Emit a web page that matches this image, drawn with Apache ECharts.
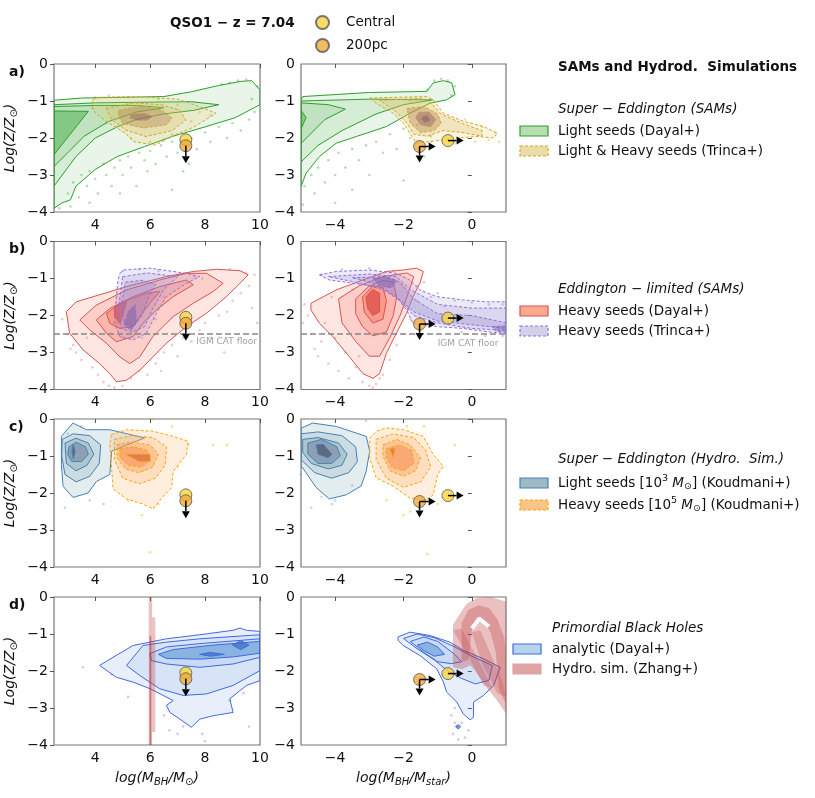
<!DOCTYPE html>
<html>
<head>
<meta charset="utf-8">
<script src="https://cdn.jsdelivr.net/npm/echarts@6/dist/echarts.min.js"></script>
<style>
  html, body { margin: 0; background: #fff; }
  #myChart { width: 815px; height: 798px; }
</style>
</head>
<body>
<div id="myChart"></div>
<script>
// tick labels
var yTicks = [-4, -3, -2, -1, 0];
var massTicks = [4, 6, 8, 10];
var ratioTicks = [-4, -2, 0];

// observed quasar points (Central / 200pc) and upper-limit arrows [x0, y0, x1, y1]
var centralLeft = [7.3, -2.05];
var pc200Left = [7.3, -2.21];
var centralRight = [-0.7, -2.07];
var pc200Right = [-1.53, -2.23];
var arrowsLeft = [[7.3, -2.21, 7.3, -2.68]];
var arrowsRight = [[-1.53, -2.23, -1.06, -2.23], [-1.53, -2.23, -1.53, -2.66], [-0.7, -2.07, -0.24, -2.07]];

var igmFloor = -2.5;
var igmLabelLeft = [7.68, -2.71];
var igmLabelRight = [-1.0, -2.75];

// ---- contour levels (outer -> inner), log M or log ratio vs log Z
var aL_green = [
  [[2.5,-0.98],[3.5,-0.92],[5,-0.9],[6.5,-0.88],[7.5,-0.75],[8.5,-0.58],[9.3,-0.47],[9.7,-0.45],[10,-0.7],[10,-1.1],[9.1,-1.45],[8,-1.7],[6.8,-1.96],[5.8,-2.23],[4.8,-2.5],[4,-2.85],[3.3,-3.3],[3.1,-3.67],[2.8,-3.75],[2.5,-3.9]],
  [[2.5,-1.1],[4,-1.05],[6,-1.03],[7.5,-1.02],[8.5,-1.1],[7.6,-1.25],[6.5,-1.35],[5.5,-1.5],[4.8,-1.7],[4,-2.0],[3.3,-2.5],[2.5,-3.3]],
  [[2.5,-1.15],[4,-1.12],[5.5,-1.12],[6.5,-1.18],[5.5,-1.3],[4.5,-1.55],[3.6,-1.95],[3,-2.4],[2.5,-2.77]],
  [[2.5,-1.27],[3.75,-1.28],[2.5,-2.45]]
];
var aL_tan = [
  [[3.9,-0.97],[4.1,-0.9],[5.5,-0.88],[7.0,-0.95],[7.8,-1.15],[8.4,-1.33],[7.6,-1.7],[6.8,-1.95],[6.2,-2.19],[5.4,-2.1],[5.1,-1.87],[4.5,-1.6],[4.0,-1.33],[3.9,-1.15]],
  [[4.4,-1.2],[5.4,-1.05],[6.4,-1.1],[7.1,-1.25],[7.3,-1.52],[6.8,-1.8],[5.85,-1.96],[5.1,-1.78],[4.6,-1.5]],
  [[4.85,-1.25],[5.7,-1.13],[6.4,-1.24],[6.8,-1.46],[6.6,-1.64],[5.75,-1.73],[5.0,-1.6],[4.85,-1.42]],
  [[5.3,-1.35],[5.8,-1.33],[6.1,-1.42],[5.9,-1.52],[5.5,-1.53],[5.25,-1.46]]
];
var aR_green = [
  [[-5,-0.97],[-4.95,-0.88],[-3.0,-0.77],[-1.32,-0.74],[-1.13,-0.51],[-0.83,-0.45],[-0.59,-0.51],[-0.49,-0.83],[-0.74,-0.97],[-1.23,-1.06],[-1.81,-1.33],[-2.5,-1.69],[-3.38,-1.96],[-3.97,-2.14],[-4.46,-2.5],[-4.85,-2.95],[-5,-3.31]],
  [[-5,-1.0],[-3,-0.95],[-1.15,-0.97],[-2,-1.1],[-2.8,-1.35],[-3.8,-1.8],[-4.5,-2.2],[-5,-2.65]],
  [[-5,-1.05],[-4.2,-1.1],[-3.7,-1.22],[-4.3,-1.5],[-5,-2.15]],
  [[-5,-1.25],[-4.85,-1.45],[-5,-1.75]]
];
var aR_tan = [
  [[-3.0,-0.92],[-1.32,-0.88],[-1.13,-0.97],[-0.83,-1.33],[-0.25,-1.55],[0.34,-1.69],[0.74,-1.87],[0.64,-2.0],[0.15,-1.96],[-0.44,-2.0],[-0.83,-2.05],[-1.62,-2.14],[-1.81,-1.87],[-2.0,-1.6],[-2.3,-1.33],[-2.8,-1.06]],
  [[-2.7,-0.98],[-1.5,-0.93],[-1.2,-1.05],[-0.9,-1.35],[-0.3,-1.6],[0.3,-1.8],[0.3,-1.95],[-0.3,-1.85],[-0.85,-1.8],[-1.3,-1.95],[-1.7,-1.9],[-1.9,-1.6],[-2.2,-1.3]],
  [[-1.9,-1.2],[-1.4,-1.15],[-1.0,-1.35],[-0.9,-1.6],[-1.1,-1.8],[-1.5,-1.85],[-1.8,-1.6]],
  [[-1.55,-1.3],[-1.25,-1.3],[-1.05,-1.5],[-1.2,-1.7],[-1.5,-1.65],[-1.65,-1.45]],
  [[-1.45,-1.4],[-1.3,-1.38],[-1.2,-1.52],[-1.35,-1.6],[-1.5,-1.5]]
];
var bL_salmon = [
  [[2.95,-1.9],[3.31,-1.63],[4.16,-1.44],[5.38,-1.17],[6.59,-0.95],[7.57,-0.81],[8.42,-0.75],[9.27,-0.79],[9.57,-0.9],[9.27,-1.13],[8.78,-1.49],[8.05,-1.94],[7.32,-2.3],[6.59,-2.75],[6.1,-3.12],[5.62,-3.48],[5.14,-3.75],[4.77,-3.79],[4.53,-3.57],[4.16,-3.3],[3.56,-2.93],[3.07,-2.48]],
  [[3.44,-2.12],[4.04,-1.72],[5.14,-1.31],[6.35,-1.04],[7.32,-0.86],[8.05,-0.86],[8.66,-1.13],[8.3,-1.35],[7.57,-1.67],[6.84,-2.03],[6.1,-2.57],[5.62,-3.12],[5.26,-3.3],[4.9,-3.12],[4.41,-2.75],[3.8,-2.39]],
  [[4.04,-2.12],[4.53,-1.81],[5.38,-1.49],[6.35,-1.22],[7.32,-1.04],[7.57,-1.17],[6.84,-1.49],[6.23,-1.85],[5.74,-2.21],[5.38,-2.57],[4.77,-2.71],[4.41,-2.48]],
  [[4.41,-1.94],[5.02,-1.63],[5.86,-1.4],[6.35,-1.35],[5.99,-1.67],[5.62,-2.03],[5.38,-2.3],[4.9,-2.35],[4.53,-2.21]],
  [[4.71,-1.76],[5.14,-1.63],[5.02,-1.94],[4.9,-2.21],[4.71,-2.03]]
];
var bL_purple = [
  [[4.9,-0.86],[5.02,-0.77],[5.99,-0.72],[7.32,-0.86],[7.81,-0.95],[7.32,-1.13],[6.59,-1.49],[6.23,-1.94],[5.86,-2.48],[5.38,-2.66],[4.9,-2.57],[4.71,-2.21],[4.77,-1.49],[4.83,-1.04]],
  [[5.0,-0.95],[5.9,-0.85],[7.0,-0.95],[6.5,-1.3],[6.1,-1.8],[5.8,-2.3],[5.35,-2.45],[4.95,-2.35],[4.85,-1.8]],
  [[5.1,-1.1],[5.7,-1.05],[6.2,-1.15],[5.95,-1.5],[5.7,-2.0],[5.4,-2.3],[5.05,-2.2],[4.95,-1.7]],
  [[5.2,-1.9],[5.45,-1.7],[5.5,-2.2],[5.3,-2.4],[5.05,-2.25]]
];
var bR_salmon = [
  [[-4.71,-1.67],[-3.97,-1.31],[-3.19,-1.04],[-2.5,-0.81],[-2.0,-0.77],[-1.62,-0.72],[-1.42,-0.81],[-1.52,-1.13],[-1.72,-1.49],[-1.91,-1.94],[-2.21,-2.48],[-2.5,-3.02],[-2.7,-3.57],[-2.89,-3.7],[-3.19,-3.57],[-3.58,-3.12],[-4.07,-2.57],[-4.46,-2.21],[-4.71,-1.85]],
  [[-3.9,-1.55],[-3.3,-1.2],[-2.6,-0.95],[-1.9,-0.85],[-1.7,-0.95],[-1.9,-1.5],[-2.1,-2.0],[-2.4,-2.6],[-2.7,-3.1],[-3.0,-3.1],[-3.4,-2.7],[-3.8,-2.2]],
  [[-3.4,-1.55],[-3.0,-1.2],[-2.6,-1.05],[-2.3,-1.1],[-2.2,-1.5],[-2.3,-2.0],[-2.5,-2.45],[-2.9,-2.55],[-3.2,-2.3],[-3.4,-1.95]],
  [[-3.2,-1.5],[-2.9,-1.2],[-2.6,-1.25],[-2.5,-1.6],[-2.6,-2.1],[-2.9,-2.2],[-3.15,-1.9]],
  [[-3.1,-1.5],[-2.9,-1.3],[-2.7,-1.4],[-2.7,-1.9],[-2.9,-2.0],[-3.05,-1.8]]
];
var bR_purple = [
  [[-4.46,-0.9],[-3.97,-0.81],[-2.99,-0.77],[-2.21,-0.86],[-1.82,-1.04],[-1.52,-1.31],[-1.03,-1.49],[-0.25,-1.58],[0.44,-1.63],[1,-1.63],[1,-2.48],[0.44,-2.44],[-0.25,-2.35],[-1.03,-2.3],[-1.72,-2.21],[-1.91,-1.85],[-2.21,-1.49],[-2.7,-1.22],[-3.48,-1.13],[-4.17,-1.04]],
  [[-4.2,-0.95],[-3.0,-0.88],[-2.2,-0.95],[-1.8,-1.3],[-1.0,-1.7],[0,-1.8],[1,-1.8],[1,-2.4],[0,-2.35],[-1,-2.2],[-1.7,-2.0],[-2.1,-1.6],[-2.6,-1.3],[-3.5,-1.08]],
  [[-3.5,-0.98],[-2.6,-0.95],[-2.1,-1.1],[-1.7,-1.55],[-1.0,-1.95],[0,-2.0],[1,-2.2],[1,-2.35],[0,-2.25],[-1,-2.15],[-1.7,-1.9],[-2.2,-1.5],[-2.8,-1.15]],
  [[-2.9,-1.0],[-2.5,-0.95],[-2.2,-1.05],[-2.35,-1.25],[-2.7,-1.2]],
  [[0.6,-2.3],[1,-2.28],[1,-2.45],[0.7,-2.42]]
];
var cL_blue = [
  [[2.77,-0.47],[3.19,-0.11],[3.68,-0.29],[4.53,-0.29],[5.8,-0.51],[4.6,-0.87],[4.53,-1.5],[4.04,-1.69],[3.74,-2.0],[3.19,-2.12],[2.83,-1.82],[2.77,-1.23]],
  [[2.8,-0.55],[3.2,-0.4],[3.8,-0.45],[4.2,-0.7],[4.15,-1.2],[3.8,-1.55],[3.3,-1.7],[2.9,-1.5],[2.78,-1.0]],
  [[2.9,-0.65],[3.3,-0.52],[3.75,-0.65],[3.95,-0.95],[3.7,-1.25],[3.3,-1.4],[2.95,-1.2]],
  [[3.05,-0.75],[3.3,-0.63],[3.65,-0.75],[3.75,-0.95],[3.5,-1.15],[3.15,-1.15],[3.0,-0.95]],
  [[3.15,-0.88],[3.2,-0.68],[3.27,-0.88],[3.21,-1.08]]
];
var cL_orange = [
  [[4.59,-0.42],[5.14,-0.29],[6.11,-0.33],[6.84,-0.47],[7.38,-0.6],[7.32,-0.96],[6.84,-1.41],[6.78,-1.86],[6.48,-2.09],[6.11,-2.43],[5.74,-2.3],[5.14,-2.16],[4.65,-1.89],[4.59,-1.23],[4.53,-0.69]],
  [[4.7,-0.55],[5.3,-0.45],[6.1,-0.5],[6.6,-0.75],[6.55,-1.25],[6.2,-1.6],[5.6,-1.75],[5.0,-1.6],[4.7,-1.1]],
  [[4.8,-0.7],[5.3,-0.62],[6.0,-0.7],[6.3,-0.95],[6.1,-1.3],[5.6,-1.45],[5.1,-1.35],[4.8,-1.05]],
  [[4.9,-0.8],[5.4,-0.75],[5.9,-0.85],[6.0,-1.1],[5.7,-1.3],[5.2,-1.25],[4.9,-1.05]],
  [[5.1,-0.95],[6.0,-0.95],[6.0,-1.15],[5.6,-1.15]]
];
var cR_blue = [
  [[-5,-0.25],[-4.66,-0.11],[-3.97,-0.2],[-3.09,-0.47],[-2.99,-0.87],[-3.09,-1.41],[-3.24,-1.81],[-3.68,-2.05],[-4.17,-2.16],[-4.56,-1.85],[-4.95,-1.32],[-5,-1.3]],
  [[-5,-0.4],[-4.5,-0.35],[-3.8,-0.45],[-3.4,-0.75],[-3.35,-1.15],[-3.6,-1.45],[-4.1,-1.6],[-4.6,-1.45],[-5,-1.1]],
  [[-4.95,-0.55],[-4.5,-0.5],[-3.9,-0.65],[-3.65,-0.95],[-3.8,-1.25],[-4.2,-1.35],[-4.7,-1.2],[-4.95,-0.9]],
  [[-4.8,-0.65],[-4.4,-0.55],[-3.95,-0.75],[-3.85,-1.0],[-4.1,-1.2],[-4.5,-1.2],[-4.8,-0.95]],
  [[-4.55,-0.7],[-4.35,-0.68],[-4.1,-0.95],[-4.2,-1.05],[-4.5,-0.95]]
];
var cR_orange = [
  [[-2.99,-0.51],[-2.79,-0.33],[-2.5,-0.24],[-2.0,-0.29],[-1.42,-0.47],[-1.13,-0.96],[-0.83,-1.28],[-1.0,-1.5],[-1.13,-2.05],[-1.32,-2.18],[-1.81,-2.14],[-2.3,-1.82],[-2.8,-1.59],[-2.99,-1.05]],
  [[-2.8,-0.55],[-2.3,-0.4],[-1.7,-0.5],[-1.35,-0.85],[-1.2,-1.3],[-1.5,-1.7],[-2.0,-1.85],[-2.5,-1.6],[-2.8,-1.1]],
  [[-2.6,-0.7],[-2.2,-0.55],[-1.8,-0.7],[-1.5,-1.05],[-1.65,-1.4],[-2.0,-1.55],[-2.4,-1.4],[-2.6,-1.0]],
  [[-2.5,-0.8],[-2.1,-0.7],[-1.75,-0.85],[-1.7,-1.2],[-2.0,-1.4],[-2.35,-1.3],[-2.5,-1.05]],
  [[-2.4,-0.8],[-2.25,-0.8],[-2.3,-1.05]]
];
var dL_blue = [
  [[4.16,-1.85],[4.65,-1.63],[5.38,-1.31],[6.59,-1.13],[7.81,-1.02],[9.02,-0.9],[9.27,-0.84],[9.51,-0.9],[10,-0.93],[10,-2.26],[9.51,-2.39],[8.9,-2.75],[9.02,-3.12],[8.29,-3.21],[7.81,-3.3],[7.5,-3.52],[7.08,-3.3],[6.72,-3.12],[6.59,-2.93],[6.84,-2.8],[6.0,-2.48],[5.38,-2.3],[4.77,-2.17]],
  [[5.14,-1.85],[5.74,-1.31],[6.59,-1.22],[7.81,-1.13],[10,-1.02],[10,-1.99],[9.02,-2.39],[8.05,-2.62],[7.2,-2.66],[6.35,-2.48],[5.62,-2.12]],
  [[5.99,-1.53],[6.59,-1.35],[7.81,-1.26],[10,-1.13],[10,-1.63],[9.02,-1.81],[7.81,-1.9],[6.59,-1.81],[6.05,-1.72]],
  [[6.3,-1.55],[6.84,-1.42],[8.29,-1.3],[10,-1.2],[10,-1.52],[9.02,-1.62],[7.81,-1.68],[6.59,-1.66]],
  [[7.8,-1.55],[8.2,-1.5],[8.7,-1.55],[8.2,-1.6]],
  [[9.0,-1.3],[9.3,-1.18],[9.6,-1.3],[9.3,-1.42]]
];
var dL_zhang = [
  [[5.95,0],[6.07,0],[6.07,-4],[5.95,-4]],
  [[6.07,-0.55],[6.19,-0.55],[6.19,-3.65],[6.07,-3.65]],
  [[5.98,-1.05],[6.04,-1.05],[6.04,-4],[5.98,-4]]
];
var dR_blue = [
  [[-2.16,-1.08],[-1.81,-0.95],[-1.23,-1.04],[-0.64,-1.22],[-0.25,-1.44],[0.34,-1.67],[0.83,-1.9],[0.64,-2.39],[0.34,-2.66],[0.05,-2.84],[0.05,-3.25],[-0.05,-3.32],[-0.25,-3.16],[-0.44,-2.84],[-0.74,-2.57],[-0.83,-2.3],[-1.03,-1.94],[-1.52,-1.58],[-2.01,-1.31],[-2.16,-1.17]],
  [[-2.0,-1.12],[-1.6,-1.0],[-1.1,-1.1],[-0.5,-1.35],[0,-1.6],[0.6,-1.85],[0.5,-2.25],[0.1,-2.35],[-0.3,-2.2],[-0.7,-2.0],[-1.1,-1.7],[-1.6,-1.4]],
  [[-1.8,-1.2],[-1.4,-1.08],[-1.0,-1.2],[-0.5,-1.55],[-0.3,-1.75],[-0.6,-1.8],[-1.0,-1.75],[-1.4,-1.5]],
  [[-1.6,-1.3],[-1.3,-1.22],[-1.0,-1.35],[-0.8,-1.55],[-1.1,-1.6],[-1.4,-1.45]],
  [[-0.4,-3.45],[-0.33,-3.5],[-0.4,-3.57],[-0.47,-3.5]]
];
var dR_zhang = [
  [[-0.55,-0.75],[-0.35,-0.45],[-0.15,-0.18],[0.15,-0.03],[0.55,0],[1,-0.12],[1,-3.15],[0.7,-2.75],[0.4,-2.4],[0.1,-2.0],[-0.05,-1.85],[-0.3,-1.95],[-0.55,-1.9]],
  [[-0.3,-0.7],[-0.1,-0.35],[0.2,-0.22],[0.5,-0.3],[0.75,-0.6],[0.95,-1.1],[1,-1.6],[1,-2.9],[0.8,-2.5],[0.7,-1.5],[0.55,-0.95],[0.4,-0.75],[0.2,-0.65],[0.0,-0.9],[-0.1,-1.7],[-0.3,-1.75]],
  [[-0.55,-0.9],[-0.3,-0.85],[0.3,-1.9],[0.6,-2.45],[0.35,-2.4],[-0.1,-1.6]],
  [[0.0,-0.95],[0.25,-0.9],[0.9,-2.3],[1,-2.7],[0.75,-2.6],[0.3,-1.8]]
];
var dR_gap = [[0.0,-0.85],[0.22,-0.58],[0.5,-0.8]];

// ---- individual sources outside the contours
var aL_greenDots = [[3.0,-3.5],[3.2,-3.2],[3.4,-3.6],[3.5,-3.0],[3.7,-3.3],[3.8,-2.9],[4.0,-3.1],[4.1,-3.5],[4.3,-2.7],[4.4,-3.0],[4.6,-3.3],[4.7,-2.8],[4.9,-2.6],[5.0,-3.0],[5.2,-2.5],[5.3,-2.8],[5.5,-3.3],[5.6,-2.4],[5.8,-2.6],[6.0,-2.35],[6.2,-2.7],[6.4,-2.2],[6.6,-2.5],[6.8,-2.1],[7.0,-2.4],[7.2,-2.9],[7.5,-2.0],[7.7,-2.3],[8.0,-1.85],[8.2,-2.1],[8.5,-1.7],[8.8,-2.0],[9.0,-1.6],[9.3,-1.8],[9.6,-1.5],[9.8,-1.3],[8.6,-0.55],[8.9,-0.5],[9.2,-0.45],[9.5,-0.42],[9.9,-0.6],[9.7,-0.95],[3.1,-3.85],[2.7,-3.9],[6.8,-3.4],[7.4,-2.7],[5.9,-2.9],[4.9,-3.5],[3.8,-3.75]];
var aL_tanDots = [[4.0,-0.9],[4.5,-0.85],[5.2,-0.9],[6.3,-0.95],[7.0,-1.1],[7.8,-1.3],[8.2,-1.4],[6.8,-1.9],[6.0,-2.1],[5.3,-2.0],[4.4,-1.6],[3.9,-1.2],[7.5,-1.55],[6.5,-2.05]];
var aR_greenDots = [[-4.9,-3.3],[-4.7,-3.0],[-4.6,-3.5],[-4.5,-2.8],[-4.3,-3.2],[-4.2,-2.6],[-4.0,-3.0],[-3.9,-2.4],[-3.7,-2.8],[-3.5,-2.3],[-3.3,-2.6],[-3.1,-2.2],[-3.0,-3.0],[-2.8,-2.1],[-2.6,-2.4],[-2.4,-1.9],[-2.2,-2.3],[-2.0,-1.75],[-1.8,-2.0],[-1.6,-1.65],[-1.4,-2.5],[-1.2,-1.95],[-2.0,-3.15],[-3.5,-3.4],[-4.0,-3.75],[-4.95,-3.8],[-1.1,-0.45],[-0.9,-0.4],[-0.7,-0.45],[-0.5,-0.6],[-0.6,-0.85],[-1.3,-0.7]];
var aR_tanDots = [[-0.2,-1.5],[0.3,-1.7],[0.7,-1.85],[0.8,-2.1],[0.5,-2.05],[0.1,-2.1],[-0.5,-2.15],[-1.2,-2.1],[-1.8,-1.0],[-2.5,-0.95]];
var bL_salmonDots = [[3.0,-2.5],[3.2,-2.8],[3.3,-3.0],[3.5,-3.2],[3.7,-2.6],[3.9,-3.4],[4.1,-3.6],[4.3,-3.8],[4.5,-3.9],[4.7,-3.95],[5.0,-3.9],[5.3,-3.7],[5.6,-3.5],[5.9,-3.6],[6.2,-3.3],[6.5,-3.0],[6.8,-2.8],[7.0,-3.1],[7.2,-2.6],[7.5,-2.7],[7.8,-2.4],[8.0,-2.2],[8.2,-2.6],[8.5,-2.0],[8.8,-1.9],[9.0,-1.6],[9.3,-1.4],[9.6,-1.2],[9.8,-0.9],[9.7,-1.8],[9.9,-2.2],[8.7,-3.0],[6.4,-3.5],[2.8,-2.1],[3.1,-2.9],[9.5,-0.85],[8.9,-0.75]];
var bL_purpleDots = [[5.0,-0.8],[5.6,-0.75],[6.3,-0.8],[7.0,-0.9],[7.6,-0.95],[7.9,-1.0],[6.5,-1.5],[6.2,-2.1],[5.7,-2.6],[5.0,-2.6],[4.8,-2.2],[7.4,-1.1]];
var bR_salmonDots = [[-4.8,-2.0],[-4.7,-2.5],[-4.6,-2.9],[-4.5,-3.1],[-4.3,-2.2],[-4.2,-3.3],[-4.0,-2.6],[-3.9,-3.5],[-3.7,-3.0],[-3.6,-3.7],[-3.4,-3.4],[-3.2,-3.8],[-3.0,-3.9],[-2.8,-3.85],[-2.6,-3.6],[-2.4,-3.2],[-2.2,-2.8],[-2.0,-2.5],[-1.8,-2.1],[-1.6,-1.6],[-1.4,-1.1],[-4.9,-1.7],[-4.95,-2.2],[-4.1,-1.5],[-3.5,-1.3],[-2.9,-3.95],[-2.7,-3.7],[-3.3,-3.1],[-4.4,-2.7]];
var bR_purpleDots = [[-4.4,-0.9],[-3.8,-0.75],[-3.0,-0.72],[-2.3,-0.8],[-1.6,-1.2],[-1.2,-1.5],[-0.5,-1.6],[0,-1.65],[0.5,-1.7],[0.9,-1.7],[-0.3,-2.45],[0.4,-2.55],[0.9,-2.55],[-1.5,-2.4],[-1.0,-1.4],[-0.8,-1.75]];
var cL_blueDots = [[3.5,-0.2],[2.9,-2.4],[3.8,-2.2],[4.3,-2.3],[3.0,-0.4]];
var cL_orangeDots = [[6.1,0],[6.8,-0.2],[7.4,-0.7],[8.3,-0.7],[8.8,-0.7],[6.0,-3.6],[5.7,-2.6],[6.3,-2.3],[7.0,-1.3],[5.2,-2.2]];
var cR_blueDots = [[-3.1,-0.05],[-3.5,-1.8],[-4.4,-2.1],[-4.0,-2.2],[-4.7,-2.4],[-4.1,-2.3],[-5.0,-1.5]];
var cR_orangeDots = [[-1.4,-0.2],[-1.9,-0.2],[-0.5,-0.7],[-2.5,-2.2],[-1.8,-2.5],[-2.0,-2.6],[-1.3,-3.65],[-1.0,-2.3]];
var dL_blueDots = [[3.55,-1.9],[4.6,-2.1],[5.2,-2.7],[6.5,-3.2],[6.7,-3.6],[7.0,-3.7],[7.2,-3.5],[7.9,-3.7],[8.0,-3.9],[9.6,-3.5],[8.9,-2.8],[9.4,-2.6]];
var dR_blueDots = [[-0.5,-3.0],[-0.6,-3.2],[-0.5,-3.4],[-0.55,-3.7],[-0.2,-3.8],[-0.1,-3.6],[-0.3,-3.4],[-0.4,-3.85],[-0.45,-3.5]];

// ---- styles
var FONT = 'DejaVu Sans';
var st = {
  green:  { line: '#2ca02c', dash: false, fills: ['rgba(44,160,44,0.10)', 'rgba(44,160,44,0.10)', 'rgba(44,160,44,0.12)', 'rgba(44,160,44,0.40)'], dot: 'rgba(44,160,44,0.45)' },
  tan:    { line: '#d4a52a', dash: true, fills: ['rgba(225,200,80,0.18)', 'rgba(220,185,90,0.25)', 'rgba(175,120,80,0.35)', 'rgba(140,90,110,0.45)', 'rgba(130,85,110,0.5)'], dot: 'rgba(215,175,70,0.55)' },
  salmon: { line: '#d9534f', dash: false, fills: ['rgba(250,128,114,0.20)', 'rgba(250,128,114,0.22)', 'rgba(250,120,100,0.28)', 'rgba(245,100,80,0.35)', 'rgba(210,50,50,0.55)'], dot: 'rgba(215,100,100,0.45)' },
  purple: { line: '#9370db', dash: true, fills: ['rgba(150,140,210,0.18)', 'rgba(150,140,210,0.20)', 'rgba(140,125,200,0.25)', 'rgba(110,90,170,0.45)', 'rgba(110,90,170,0.45)'], dot: 'rgba(140,120,220,0.5)' },
  steel:  { line: '#4682b4', dash: false, fills: ['rgba(70,130,150,0.15)', 'rgba(70,130,150,0.15)', 'rgba(70,120,140,0.22)', 'rgba(80,90,130,0.35)', 'rgba(50,50,80,0.5)'], dot: 'rgba(70,130,180,0.4)' },
  orange: { line: '#ffa500', dash: true, fills: ['rgba(255,170,90,0.20)', 'rgba(255,165,80,0.22)', 'rgba(250,140,60,0.30)', 'rgba(240,120,50,0.35)', 'rgba(200,90,40,0.5)'], dot: 'rgba(255,165,0,0.5)' },
  blue:   { line: '#4169e1', dash: false, fills: ['rgba(100,150,230,0.15)', 'rgba(100,150,230,0.12)', 'rgba(100,150,230,0.12)', 'rgba(60,130,200,0.45)', 'rgba(40,90,180,0.55)'], dot: 'rgba(65,105,225,0.4)' },
  zhang:  { line: null, dash: false, fills: ['rgba(190,60,60,0.32)', 'rgba(190,60,60,0.3)', 'rgba(180,50,50,0.55)', 'rgba(190,60,60,0.3)'] }
};
st.zhangR = { line: null, dash: false, fills: ['rgba(190,60,60,0.32)', 'rgba(190,60,60,0.3)', 'rgba(190,60,60,0.25)', 'rgba(190,60,60,0.25)'] };

// ---- layout
var tops = [64, 241.5, 419, 597];
var H = 148;
var grids = [], xAxes = [], yAxes = [];
function minus(v) { return String(v).replace('-', '\u2212'); }

tops.forEach(function (t, r) {
  [0, 1].forEach(function (c) {
    grids.push({ left: c ? 301 : 54, top: t, width: c ? 205 : 206, height: H, show: true, borderColor: '#777', borderWidth: 1.2, backgroundColor: 'transparent' });
    var ticks = c ? ratioTicks : massTicks;
    var x = {
      type: 'value', gridIndex: r * 2 + c, min: c ? -5 : 2.5, max: c ? 1 : 10,
      splitLine: { show: false }, axisLine: { show: false },
      axisTick: { show: true, customValues: ticks, length: 4, lineStyle: { color: '#555' } },
      axisLabel: { customValues: ticks, formatter: minus, fontSize: 14, color: '#111', fontFamily: FONT, margin: 6 }
    };
    if (r === 3) {
      x.name = c ? '{i|log(M}{s|BH}{i|/M}{s|star}{i|)}' : '{i|log(M}{s|BH}{i|/M}{o|\u2299}{i|)}';
      x.nameLocation = 'middle';
      x.nameGap = 24;
      x.nameTextStyle = { rich: {
        i: { fontSize: 14, fontStyle: 'italic', fontFamily: FONT, color: '#111' },
        s: { fontSize: 10, fontStyle: 'italic', fontFamily: FONT, color: '#111', padding: [8, 0, 0, 0] },
        o: { fontSize: 10, fontFamily: FONT, color: '#111', padding: [8, 0, 0, 0] }
      } };
    }
    xAxes.push(x);
    var y = {
      type: 'value', gridIndex: r * 2 + c, min: -4, max: 0, interval: 1,
      splitLine: { show: false }, axisLine: { show: false },
      axisTick: { show: true, length: 4, lineStyle: { color: '#555' } },
      axisLabel: { formatter: minus, fontSize: 14, color: '#111', fontFamily: FONT, margin: 6 }
    };
    if (c === 0) {
      y.name = '{i|Log(Z/Z}{o|\u2299}{i|)}';
      y.nameLocation = 'middle';
      y.nameGap = 35;
      y.nameRotate = 90;
      y.nameTextStyle = { rich: {
        i: { fontSize: 14, fontStyle: 'italic', fontFamily: FONT, color: '#111' },
        o: { fontSize: 10, fontFamily: FONT, color: '#111', padding: [8, 0, 0, 0] }
      } };
    }
    yAxes.push(y);
  });
});

// ---- series builders
function polySeries(idx, polys, s, z) {
  return {
    type: 'custom', xAxisIndex: idx, yAxisIndex: idx, clip: true, silent: true, z: z || 2,
    data: polys.map(function (p) { return p[0]; }),
    renderItem: function (params, api) {
      var p = polys[params.dataIndex];
      var fill = s.fills[Math.min(params.dataIndex, s.fills.length - 1)];
      return {
        type: 'polygon',
        shape: { points: p.map(function (q) { return api.coord(q); }) },
        style: { fill: fill, stroke: s.line || 'none', lineWidth: s.line ? 1 : 0, lineDash: s.dash ? [3, 2] : null }
      };
    }
  };
}
function dotSeries(idx, pts, s) {
  return { type: 'scatter', xAxisIndex: idx, yAxisIndex: idx, data: pts, symbolSize: 2.6, silent: true, z: 1,
    itemStyle: { color: s.dot }, clip: true };
}
function arrowSeries(idx, arrows) {
  return {
    type: 'custom', xAxisIndex: idx, yAxisIndex: idx, silent: true, z: 10, data: arrows,
    renderItem: function (params, api) {
      var a = api.coord([api.value(0), api.value(1)]);
      var b = api.coord([api.value(2), api.value(3)]);
      var dx = b[0] - a[0], dy = b[1] - a[1];
      var L = Math.sqrt(dx * dx + dy * dy), ux = dx / L, uy = dy / L, h = 7, w = 4;
      var base = [b[0] - ux * h, b[1] - uy * h];
      return { type: 'group', children: [
        { type: 'line', shape: { x1: a[0], y1: a[1], x2: base[0], y2: base[1] }, style: { stroke: '#000', lineWidth: 1.5 } },
        { type: 'polygon', shape: { points: [b, [base[0] - uy * w, base[1] + ux * w], [base[0] + uy * w, base[1] - ux * w]] }, style: { fill: '#000' } }
      ] };
    }
  };
}
function markerSeries(idx, central, pc) {
  return [
    { name: 'Central', type: 'scatter', xAxisIndex: idx, yAxisIndex: idx, data: [central], symbolSize: 12, z: 8, silent: true,
      itemStyle: { color: '#f7d53c', borderColor: '#555', borderWidth: 1 } },
    { name: '200pc', type: 'scatter', xAxisIndex: idx, yAxisIndex: idx, data: [pc], symbolSize: 12, z: 9, silent: true,
      itemStyle: { color: '#f2aa3c', borderColor: '#555', borderWidth: 1 } }
  ];
}
function floorSeries(idx, x0, x1, lab) {
  return [
    { type: 'line', xAxisIndex: idx, yAxisIndex: idx, data: [[x0, igmFloor], [x1, igmFloor]], symbol: 'none', silent: true, z: 5,
      lineStyle: { color: '#888', width: 1.5, type: [6, 3] } },
    { type: 'scatter', xAxisIndex: idx, yAxisIndex: idx, data: [lab], symbolSize: 0, silent: true, z: 5,
      label: { show: true, position: 'right', distance: 0, formatter: 'IGM CAT floor', fontSize: 9, color: '#888', fontFamily: FONT } }
  ];
}

var series = [];
// a)
series.push(dotSeries(0, aL_greenDots, st.green), dotSeries(0, aL_tanDots, st.tan));
series.push(polySeries(0, aL_green, st.green), polySeries(0, aL_tan, st.tan, 3));
series.push(dotSeries(1, aR_greenDots, st.green), dotSeries(1, aR_tanDots, st.tan));
series.push(polySeries(1, aR_green, st.green), polySeries(1, aR_tan, st.tan, 3));
// b)
series.push(dotSeries(2, bL_salmonDots, st.salmon), dotSeries(2, bL_purpleDots, st.purple));
series.push(polySeries(2, bL_salmon, st.salmon), polySeries(2, bL_purple, st.purple, 3));
series.push(dotSeries(3, bR_salmonDots, st.salmon), dotSeries(3, bR_purpleDots, st.purple));
series.push(polySeries(3, bR_salmon, st.salmon), polySeries(3, bR_purple, st.purple, 3));
series = series.concat(floorSeries(2, 2.5, 10, igmLabelLeft), floorSeries(3, -5, 1, igmLabelRight));
// c)
series.push(dotSeries(4, cL_blueDots, st.steel), dotSeries(4, cL_orangeDots, st.orange));
series.push(polySeries(4, cL_blue, st.steel), polySeries(4, cL_orange, st.orange, 3));
series.push(dotSeries(5, cR_blueDots, st.steel), dotSeries(5, cR_orangeDots, st.orange));
series.push(polySeries(5, cR_blue, st.steel), polySeries(5, cR_orange, st.orange, 3));
// d)
series.push(dotSeries(6, dL_blueDots, st.blue), polySeries(6, dL_blue, st.blue), polySeries(6, dL_zhang, st.zhang, 3));
series.push(dotSeries(7, dR_blueDots, st.blue), polySeries(7, dR_blue, st.blue), polySeries(7, dR_zhang, st.zhangR, 3));
series.push({ type: 'line', xAxisIndex: 7, yAxisIndex: 7, data: dR_gap, symbol: 'none', silent: true, z: 4,
  lineStyle: { color: '#fff', width: 4 } });

for (var i = 0; i < 8; i++) {
  var right = i % 2 === 1;
  series = series.concat(markerSeries(i, right ? centralRight : centralLeft, right ? pc200Right : pc200Left));
  series.push(arrowSeries(i, right ? arrowsRight : arrowsLeft));
}

// ---- right-hand legend (text + patches)
var graphic = [];
function txt(x, y, text, extra) {
  var s = { text: text, fontSize: 13.5, fontFamily: FONT, fill: '#111', verticalAlign: 'middle' };
  for (var k in extra) s[k] = extra[k];
  graphic.push({ type: 'text', x: x, y: y, style: s });
}
function patch(x, y, fill, stroke, dashed) {
  graphic.push({ type: 'rect', shape: { x: x, y: y - 5, width: 28, height: 10 },
    style: { fill: fill, stroke: stroke || fill, lineWidth: 1.2, lineDash: dashed ? [3, 2] : null } });
}
var supRich = {
  n: { fontSize: 13.5, fontFamily: FONT, fill: '#111' },
  i: { fontSize: 13.5, fontFamily: FONT, fontStyle: 'italic', fill: '#111' },
  sup: { fontSize: 9.5, fontFamily: FONT, fill: '#111', padding: [0, 0, 8, 0] },
  sub: { fontSize: 9.5, fontFamily: FONT, fill: '#111', padding: [8, 0, 0, 0] }
};

['a)', 'b)', 'c)', 'd)'].forEach(function (l, r) {
  txt(9, tops[r] + 8, l, { fontWeight: 'bold', fontSize: 14 });
});
txt(558, 67, 'SAMs and Hydrod.  Simulations', { fontWeight: 'bold' });

txt(558, 109, 'Super \u2212 Eddington (SAMs)', { fontStyle: 'italic' });
patch(520, 131, '#b5dfb0', '#2ca02c'); txt(558, 131, 'Light seeds (Dayal+)');
patch(520, 151, '#e8dca8', '#d4a52a', true); txt(558, 151, 'Light & Heavy seeds (Trinca+)');

txt(558, 289, 'Eddington \u2212 limited (SAMs)', { fontStyle: 'italic' });
patch(520, 311, '#f9a98e', '#d9534f'); txt(558, 311, 'Heavy seeds (Dayal+)');
patch(520, 331, '#d3d0e8', '#9370db', true); txt(558, 331, 'Heavy seeds (Trinca+)');

txt(558, 459, 'Super \u2212 Eddington (Hydro.  Sim.)', { fontStyle: 'italic' });
patch(520, 483, '#9fbac4', '#4682b4');
txt(558, 483, '{n|Light seeds [10}{sup|3}{n| }{i|M}{sub|\u2299}{n|] (Koudmani+)}', { rich: supRich });
patch(520, 505, '#fdc48a', '#ffa500', true);
txt(558, 505, '{n|Heavy seeds [10}{sup|5}{n| }{i|M}{sub|\u2299}{n|] (Koudmani+)}', { rich: supRich });

txt(552, 628, 'Primordial Black Holes', { fontStyle: 'italic' });
patch(513, 649, '#b7d4ee', '#4169e1'); txt(552, 649, 'analytic (Dayal+)');
patch(513, 669, '#e0a4a4', null); txt(552, 669, 'Hydro. sim. (Zhang+)');

var myChart = echarts.init(document.getElementById('myChart'));
var option = {
  backgroundColor: '#fff',
  animation: false,
  title: { text: 'QSO1 \u2212 z = 7.04', left: 165, top: 11, textStyle: { fontSize: 13.5, fontWeight: 'bold', fontFamily: FONT, color: '#111' } },
  legend: {
    data: ['Central', '200pc'], orient: 'vertical', left: 310, top: 10, itemGap: 8, icon: 'circle',
    itemWidth: 13, itemHeight: 13, textStyle: { fontSize: 13.5, fontFamily: FONT, color: '#111', padding: [0, 0, 0, 12] }, selectedMode: false
  },
  grid: grids,
  xAxis: xAxes,
  yAxis: yAxes,
  series: series,
  graphic: graphic
};
myChart.setOption(option);
</script>
</body>
</html>
